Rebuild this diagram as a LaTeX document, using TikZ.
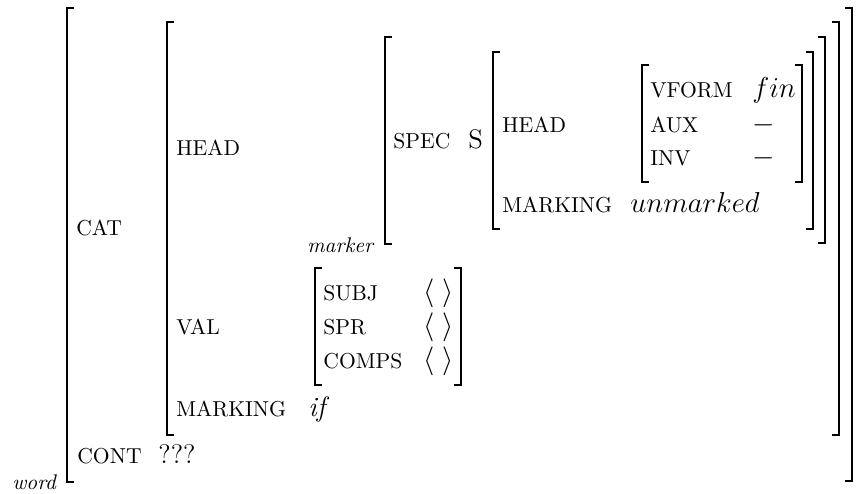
\documentclass[tikz,border=0pt]{standalone}
\tikzset{
  attr/.style={anchor=base west, inner sep=0pt, font=\fontsize{10.8}{13}\selectfont},
  rom/.style={anchor=base west, inner sep=0pt, font=\fontsize{13.4}{16}\selectfont},
  ival/.style={anchor=base west, inner sep=0pt, font=\fontsize{14}{17}\selectfont},
  sortlab/.style={anchor=base west, inner sep=0pt, font=\fontsize{10.6}{12}\selectfont\itshape},
  brk/.style={line width=1pt, line cap=butt, line join=miter},
  obrk/.style={line width=0.75pt, line cap=butt, line join=miter},
}
\begin{document}
\begin{tikzpicture}[x=0.5pt, y=-0.5pt]
\useasboundingbox (0,0) rectangle (861,493);
% brackets
% word (outermost)
\draw[obrk] (74,8) -- (67,8) -- (67,482) -- (74,482);
\draw[obrk] (845,8) -- (852,8) -- (852,481) -- (845,481);
% CAT value
\draw[brk] (174,22) -- (167,22) -- (167,435) -- (174,435);
\draw[brk] (832,22) -- (839,22) -- (839,435) -- (832,435);
% HEAD value (marker)
\draw[brk] (392,37) -- (385,37) -- (385,244) -- (392,244);
\draw[brk] (818,37) -- (825,37) -- (825,243) -- (818,243);
% SPEC value
\draw[brk] (500,52) -- (493,52) -- (493,229) -- (500,229);
\draw[brk] (806,52) -- (813,52) -- (813,229) -- (806,229);
% inner HEAD value
\draw[brk] (649,65) -- (642,65) -- (642,182) -- (649,182);
\draw[brk] (795,65) -- (802,65) -- (802,182) -- (795,182);
% VAL value
\draw[brk] (322,268) -- (315,268) -- (315,385) -- (322,385);
\draw[brk] (454,268) -- (461,268) -- (461,385) -- (454,385);

% texts
\node[sortlab] (word) at (12,489) {word};
\node[attr] (cat) at (76,235) {CAT};
\node[attr] (cont) at (77,463) {CONT};
\node[rom] (qqq) at (158,463) {???};
\node[attr] (head) at (176,155) {HEAD};
\node[attr] (val) at (176,334) {VAL};
\node[attr] (marking) at (176,416) {MARKING};
\node[ival] (if) at (308,416) {\itshape if};
\node[sortlab] (marker) at (307,252) {marker};
\node[attr] (spec) at (393,148) {SPEC};
\node[rom] (S) at (468,148) {S};
\node[attr] (ihead) at (502,132) {HEAD};
\node[attr] (imarking) at (502,212) {MARKING};
\node[ival] (unmarked) at (630,212) {$unmarked$};
\node[attr] (vform) at (650,97) {VFORM};
\node[attr] (aux) at (650,132) {AUX};
\node[attr] (inv) at (650,165) {INV};
\node[ival] (fin) at (752,97) {$fin$};
\node[ival] (auxv) at (752,132) {$-$};
\node[ival] (invv) at (752,165) {$-$};
\node[attr] (subj) at (323,300) {SUBJ};
\node[attr] (spr) at (323,334) {SPR};
\node[attr] (comps) at (323,368) {COMPS};
\node[rom] (subjv) at (423,300) {$\langle\;\rangle$};
\node[rom] (sprv) at (423,334) {$\langle\;\rangle$};
\node[rom] (compsv) at (423,368) {$\langle\;\rangle$};
\end{tikzpicture}
\end{document}
